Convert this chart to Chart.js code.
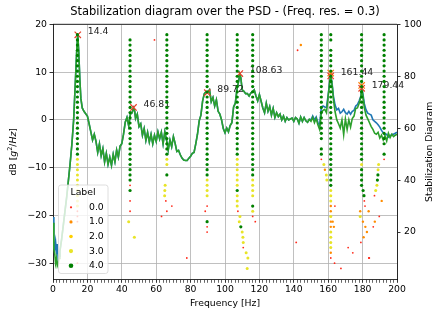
<!DOCTYPE html>
<html>
<head>
<meta charset="utf-8">
<script src="https://cdn.jsdelivr.net/npm/chart.js@4.4.0/dist/chart.umd.min.js"></script>
<style>
  html, body { margin: 0; padding: 0; background: #fff; }
</style>
</head>
<body>
<canvas id="chart" width="433" height="313"></canvas>
<script>
// Text
const TITLE = 'Stabilization diagram over the PSD - (Freq. res. = 0.3)';
const X_TITLE = 'Frequency [Hz]';
const Y2_TITLE = 'Stabilization Diagram';

// Tick labels
const X_TICKS = [0, 20, 40, 60, 80, 100, 120, 140, 160, 180, 200];
const Y_TICKS = [-30, -20, -10, 0, 10, 20];
const Y2_TICKS = [20, 40, 60, 80, 100];

// PSD curves (dB)
const FREQS = [
  0, 0.5, 1, 1.5, 2, 2.5, 3, 3.5, 4, 5, 6, 7, 8, 9, 10, 11, 12, 13, 13.8, 14.4, 15, 15.6, 16.2, 17, 18, 19, 20,
  21, 22, 23, 24, 25, 26, 27, 28, 29, 30, 31, 32, 33, 34, 35, 36, 37, 38, 39, 40, 41, 42, 43, 44, 45, 46,
  46.8, 47.5, 48, 49, 50, 51, 52, 53, 54, 55, 56, 57, 58, 59, 60, 61, 62, 63, 64, 65, 66, 67, 68, 69, 70,
  71, 72, 73, 74, 75, 76, 77, 78, 79, 80, 81, 82, 83, 84, 85, 86, 87, 88, 89, 90, 91, 92, 93, 94, 95, 96,
  97, 98, 99, 100, 101, 102, 103, 104, 105, 106, 107, 108,
  108.6, 109.2, 110, 111, 112, 113, 114, 115, 116, 117, 118, 119, 120, 121, 122, 123, 124, 125, 126, 127,
  128, 129, 130, 131, 132, 133, 134, 135, 136, 137, 138, 139, 140, 141, 142, 143, 144, 145, 146, 147, 148,
  149, 150, 151, 152, 153, 154, 155, 156, 157, 158, 159, 160, 161,
  161.5, 162, 162.5, 163, 164, 165, 166, 167, 168, 169, 170, 171, 172, 173, 174, 175, 176, 177, 178, 179,
  179.5, 180.2, 181, 182, 183, 184, 185, 186, 187, 188, 189, 190, 191, 192, 193, 194, 195, 196, 197, 198, 199, 200
];
const PSD_GREEN = [
  -21.5, -27, -28, -30, -29, -30.5, -30, -29, -27.5, -25, -22, -19, -16, -12.5, -9, -5, 0, 8, 14.5, 17.9, 14, 8.5, 4.5, 2.5, 1.8, 1.3, 0.8,
  -0.8, -2.5, -4.2, -3, -4.5, -6.8, -5, -7.5, -6, -8.8, -7, -9.3, -7.8, -9.5, -7.2, -8.8, -6.3, -7.8, -5.5, -5, -3, -0.5, 0.5, -1.2, 1.2, 1.5,
  2.5, 1.8, 0.3, 1.2, -1.4, -0.8, -3.2, -1.8, -4.3, -2.6, -4.6, -3, -5, -3.2, -4.5, -2.5, -4, -2.6, -5, -2.5, -4.2, -6.3, -4.2, -5.6, -3.5,
  -4.9, -6.6, -6.4, -7.3, -8, -8.4, -8.5, -8.5, -8, -7.6, -7, -6.8, -5, -3, -0.2, 1, 4, 5.5, 5.9, 5.8, 6.3, 3.8, 4.7, 2.9, 4.2, 1.8,
  1.2, 0, -1.8, -2.7, -1.7, -2.5, -1.2, -0.6, 2.7, 3.5, 6.5, 8.2,
  9.6, 8.8, 6.3, 6, 5.5, 5.5, 5, 5.6, 5.9, 6.3, 5, 4, 5.3, 3.9, 2.5, 1.5, 3.5, 1.8, 2.8, 1,
  2.4, 0.5, 1.5, 0.7, 1.2, 0, 0.8, -0.3, 0.5, 0, 0.2, 0.4, -0.3, 0.5, 0.2, -0.7, 0.6, -0.3, 0.5, -0.2, -0.5,
  0.1, -0.3, 0.5, -0.6, 0.3, -1, -2, 1.5, 2, 2.2, 1.5, 5, 8.2,
  9.3, 8, 6.5, 4.4, 1.7, 0, -0.8, -1.7, 0, -3.1, 0.2, -2, 0, -1.5, 0.3, 0.8, 2.4, 2.5, 3.5, 4.8,
  6.6, 5, 2.5, 1, 0.2, -0.6, -1.4, -2, -2.8, -3, -2.6, -3.8, -3.2, -4.2, -3.3, -4.4, -2.8, -3.7, -3, -3.5, -3.2, -3
];
const PSD_BLUE = [
  -20.3, -25.5, -27, -25.5, -27.5, -26, -29, -28.5, -27.5, -25, -22, -19, -16, -12.5, -9, -5, 0, 8, 14.5, 17.9, 14, 8.5, 4.5, 2.5, 1.8, 1.3, 0.8,
  -0.8, -2.5, -4.2, -3, -4.5, -6.8, -5, -7.5, -6, -8.8, -7, -9.3, -7.8, -9.5, -7.2, -8.8, -6.3, -7.8, -5.5, -5, -3, -0.5, 0.5, -1.2, 1.2, 1.5,
  2.5, 1.8, 0.3, 1.2, -1.4, -0.8, -3.2, -1.8, -4.3, -2.6, -4.6, -3, -5, -3.2, -4.5, -2.5, -4, -2.6, -5, -2.5, -4.2, -6.3, -4.2, -5.6, -3.5,
  -4.9, -6.6, -6.4, -7.3, -8, -8.4, -8.5, -8.5, -8, -7.6, -7, -6.8, -5, -3, -0.2, 1, 4, 5.5, 5.9, 5.8, 6.3, 3.8, 4.7, 2.9, 4.2, 1.8,
  1.2, 0, -1.8, -2.7, -1.7, -2.5, -1.2, -0.6, 2.7, 3.5, 6.5, 8.2,
  9.6, 8.8, 6.3, 6, 5.5, 5.5, 5, 5.6, 5.9, 6.3, 5, 4, 5.3, 3.9, 2.5, 1.5, 3.5, 1.8, 2.8, 1,
  2.4, 0.5, 1.5, 0.7, 1.2, 0, 0.8, -0.3, 0.5, 0, 0.2, 0.4, -0.3, 0.5, 0.2, -0.7, 0.6, -0.3, 0.5, -0.2, -0.5,
  0.1, 0, 0.8, 0, 0.6, -0.5, -1.2, 2.6, 2.9, 2.7, 2.6, 5.3, 8.4,
  9.4, 8.2, 6.9, 5, 3.1, 2.1, 2.4, 1.4, 1.7, 2.2, 1.5, 1.2, 1.8, 1.2, 1.8, 2, 2.9, 3.2, 4, 5,
  6.7, 5.4, 3.4, 2.1, 1.4, 1.2, 1, 0, -0.3, -0.6, -1, -1.5, -2.2, -2.7, -3.1, -3, -3.6, -3.4, -3, -3, -2.8, -2.6
];

// Picked peaks
const PEAK_FREQS = [14.4, 46.81, 89.72, 108.63, 161.44, 179.44];
const PEAK_DB = [17.8, 2.6, 5.7, 9.7, 9.2, 6.6];
const PEAK_TEXT = ['14.4', '46.81', '89.72', '108.63', '161.44', '179.44'];
const PEAK2_FREQS = [161.44, 179.44];
const PEAK2_DB = [9.8, 7.2];

// Stabilization diagram: model orders and pole labels
const ORDERS = [96, 94, 92, 90, 88, 86, 84, 82, 80, 78, 76, 74, 72, 70, 68, 66, 64, 62, 60, 58, 56, 54, 52, 50,
  48, 46, 44, 42, 40, 38, 36, 34, 32, 30, 28, 26, 24, 22, 20, 18, 16, 14, 12, 10, 8, 6, 4];
const LABEL_NAMES = ['0.0', '1.0', '2.0', '3.0', '4.0'];
const LABEL_COLORS = ['#ff2a1a', '#ff8c00', '#ffd000', '#e8e428', '#008000'];
// one char per order in ORDERS: label code, '.' = no pole
const COLUMN_FREQS = [14.2, 44.8, 66.2, 89.6, 107.1, 116.1, 156.0, 161.5, 179.4, 192.5];
const COLUMN_CODES = [
  '4444444444' + '4444444444' + '4444' + '3333333333' + '000' + '.......' + '0' + '..',
  '.' + '4444444444' + '4444444444' + '44444444' + '0' + '4' + '.' + '0' + '.' + '0' + '............',
  '4444444444' + '4444444444' + '4444' + '33' + '.' + '4' + '.' + '...' + '.' + '.' + '0' + '............',
  '4444444444' + '4444444444' + '44444444' + '3333' + '.' + '0' + '.' + '.' + '4' + '0' + '0' + '........',
  '4444444444' + '4444444444' + '4444' + '333333' + '4' + '333' + '.............',
  '4444444444' + '4444444444' + '44444' + '4' + '44' + '3333' + '.' + '4' + '3' + '0' + '...........',
  '4444444444' + '4444444444' + '4' + '.' + '44' + '0' + '..........' + '..........' + '..',
  '44' + '.' + '4444444444' + '4444444444' + '4444444' + '333' + '1' + '1' + '3' + '1' + '1' + '3333' + '1' + '0' + '...',
  '4444444444' + '4444444444' + '44444' + '3' + '4444' + '.................',
  '4444444444' + '4444444444' + '44' + '.' + '4' + '0' + '..........' + '..........' + '..'
];
// poles off the straight columns: [freq, order, label]
const EXTRA_POLES = [
  [44.0, 24, 3], [47.3, 18, 3],
  [65.2, 38, 3], [65.0, 36, 3], [64.9, 34, 3], [65.6, 32, 0], [69.1, 30, 0], [63.1, 26, 0], [77.8, 10, 0], [59.0, 94, 0],
  [88.5, 28, 0],
  [107.5, 28, 0], [108.7, 26, 3], [108.3, 24, 3], [109.2, 22, 4], [110.0, 20, 3], [110.4, 18, 3], [110.6, 16, 3],
  [110.6, 14, 0], [112.3, 12, 3], [113.3, 10, 3], [112.9, 6, 3],
  [117.6, 24, 0],
  [141.4, 16, 0], [142.2, 90, 0], [144.1, 92, 1],
  [157.5, 46, 3], [158.1, 44, 1], [158.9, 42, 3], [159.2, 40, 3],
  [163.9, 30, 0], [162.6, 24, 1], [163.3, 22, 1], [163.7, 8, 0], [167.4, 6, 0], [171.6, 14, 0], [174.3, 12, 0], [183.6, 10, 0],
  [180.3, 36, 4], [180.8, 34, 4], [181.0, 32, 0], [181.4, 30, 0], [178.6, 28, 1], [183.5, 28, 1], [178.6, 26, 3],
  [180.2, 24, 1], [181.6, 22, 1], [182.5, 20, 1], [180.6, 18, 1], [179.0, 16, 0], [183.9, 10, 0],
  [189.3, 46, 3], [189.0, 44, 3], [188.9, 42, 4], [188.6, 40, 4], [188.3, 38, 3], [187.6, 36, 3], [186.9, 34, 0],
  [191.1, 32, 1], [189.7, 26, 0], [187.1, 24, 1], [186.2, 22, 0]
];

// sanity checks
COLUMN_CODES.forEach((s, i) => {
  if (s.length !== ORDERS.length) throw new Error('column ' + i + ' has ' + s.length + ' codes');
});
if (PSD_GREEN.length !== FREQS.length || PSD_BLUE.length !== FREQS.length) {
  throw new Error('psd lengths ' + FREQS.length + ' ' + PSD_GREEN.length + ' ' + PSD_BLUE.length);
}

// style
const FONT = 'DejaVu Sans';
const FS = 9.3;
const GRID = '#b0b0b0';
const DOT_RADIUS = [0.9, 1.2, 1.4, 1.5, 1.6];
const LEGEND_RADIUS = [1.1, 1.6, 1.8, 2.1, 2.3];

// group poles by label
const poles = LABEL_NAMES.map(() => []);
COLUMN_CODES.forEach((codes, c) => {
  for (let i = 0; i < codes.length; i++) {
    if (codes[i] === '.') continue;
    poles[Number(codes[i])].push({ x: COLUMN_FREQS[c], y: ORDERS[i] });
  }
});
EXTRA_POLES.forEach(([f, o, l]) => poles[l].push({ x: f, y: o }));

const fmt = v => String(v).replace('-', '\u2212');

const poleSets = [4, 3, 2, 1, 0].map(l => ({
  type: 'scatter',
  label: LABEL_NAMES[l],
  data: poles[l],
  yAxisID: 'y2',
  pointRadius: DOT_RADIUS[l],
  pointBorderWidth: 0,
  backgroundColor: LABEL_COLORS[l],
  borderColor: LABEL_COLORS[l]
}));

const decor = {
  id: 'decor',
  beforeDraw(chart) {
    const c = chart.ctx;
    c.save();
    c.fillStyle = '#fff';
    c.fillRect(0, 0, chart.width, chart.height);
    c.restore();
  },
  afterDatasetDraw(chart, args) {
    if (args.index !== 5) return; // after red peak markers, before poles
    const { ctx, scales: { x, y } } = chart;
    ctx.save();
    ctx.font = FS + 'px "' + FONT + '"';
    ctx.fillStyle = '#222';
    ctx.textBaseline = 'middle';
    ctx.textAlign = 'left';
    PEAK_TEXT.forEach((t, i) => {
      ctx.fillText(t, x.getPixelForValue(PEAK_FREQS[i]) + 10, y.getPixelForValue(PEAK_DB[i]) - 3);
    });
    ctx.restore();
  },
  afterDraw(chart) {
    const { ctx, chartArea: a } = chart;
    const midY = (a.top + a.bottom) / 2;
    ctx.save();
    // top spine
    ctx.strokeStyle = '#000';
    ctx.lineWidth = 0.8;
    ctx.beginPath();
    ctx.moveTo(a.left, a.top);
    ctx.lineTo(a.right, a.top);
    ctx.stroke();

    // title
    ctx.fillStyle = '#000';
    ctx.font = '11.5px "' + FONT + '"';
    ctx.textAlign = 'center';
    ctx.textBaseline = 'middle';
    ctx.fillText(TITLE, (a.left + a.right) / 2, 12.5);

    // left y title with math parts
    const parts = [
      ['dB [', 'normal', FS, 0],
      ['g', 'italic', FS, 0],
      ['2', 'normal', FS * 0.7, -3.5],
      ['/', 'normal', FS, 0],
      ['Hz', 'italic', FS, 0],
      [']', 'normal', FS, 0]
    ];
    let total = 0;
    parts.forEach(p => { ctx.font = p[1] + ' ' + p[2] + 'px "' + FONT + '"'; total += ctx.measureText(p[0]).width; });
    ctx.save();
    ctx.translate(13.7, midY);
    ctx.rotate(-Math.PI / 2);
    ctx.textAlign = 'left';
    let px = -total / 2;
    parts.forEach(p => {
      ctx.font = p[1] + ' ' + p[2] + 'px "' + FONT + '"';
      ctx.fillText(p[0], px, p[3]);
      px += ctx.measureText(p[0]).width;
    });
    ctx.restore();

    // right y title
    ctx.save();
    ctx.font = FS + 'px "' + FONT + '"';
    ctx.translate(429.5, midY);
    ctx.rotate(-Math.PI / 2);
    ctx.textAlign = 'center';
    ctx.fillText(Y2_TITLE, 0, 0);
    ctx.restore();

    // legend box
    const lx = 58.5, ly = 185, lw = 49.5, lh = 88.5;
    ctx.beginPath();
    ctx.roundRect(lx, ly, lw, lh, 2.5);
    ctx.fillStyle = 'rgba(255,255,255,0.8)';
    ctx.fill();
    ctx.strokeStyle = '#d6d6d6';
    ctx.lineWidth = 0.8;
    ctx.stroke();
    ctx.fillStyle = '#000';
    ctx.font = FS + 'px "' + FONT + '"';
    ctx.textAlign = 'center';
    ctx.fillText('Label', lx + 24.5, ly + 8);
    ctx.textAlign = 'left';
    LABEL_NAMES.forEach((name, l) => {
      const yy = ly + 22.3 + l * 14.6;
      ctx.beginPath();
      ctx.arc(lx + 12.5, yy, LEGEND_RADIUS[l], 0, Math.PI * 2);
      ctx.fillStyle = LABEL_COLORS[l];
      ctx.fill();
      ctx.fillStyle = '#000';
      ctx.fillText(name, lx + 30.5, yy);
    });
    ctx.restore();
  }
};

Chart.defaults.font.family = FONT;
Chart.defaults.font.size = FS;
Chart.defaults.color = '#000';

new Chart(document.getElementById('chart'), {
  type: 'scatter',
  data: {
    datasets: [
      ...poleSets,
      {
        type: 'scatter',
        label: 'peaks',
        data: PEAK_FREQS.map((f, i) => ({ x: f, y: PEAK_DB[i] })),
        yAxisID: 'y',
        pointStyle: 'crossRot',
        pointRadius: 4.5,
        borderColor: '#e8402a',
        borderWidth: 1.2
      },
      {
        type: 'scatter',
        label: 'peaks 2',
        data: PEAK2_FREQS.map((f, i) => ({ x: f, y: PEAK2_DB[i] })),
        yAxisID: 'y',
        pointStyle: 'crossRot',
        pointRadius: 4.5,
        borderColor: '#ff7f0e',
        borderWidth: 1.2
      },
      {
        type: 'line',
        label: 'PSD smooth',
        data: FREQS.map((f, i) => ({ x: f, y: PSD_GREEN[i] })),
        yAxisID: 'y',
        borderColor: '#2ca02c',
        borderWidth: 1.6,
        pointRadius: 0,
        fill: false,
        tension: 0
      },
      {
        type: 'line',
        label: 'PSD',
        data: FREQS.map((f, i) => ({ x: f, y: PSD_BLUE[i] })),
        yAxisID: 'y',
        borderColor: '#1f77b4',
        borderWidth: 1.6,
        pointRadius: 0,
        fill: false,
        tension: 0
      }
    ]
  },
  options: {
    responsive: false,
    animation: false,
    devicePixelRatio: 1,
    layout: { padding: { top: 24.3, left: 0, right: 0, bottom: 0 } },
    plugins: {
      legend: { display: false },
      tooltip: { enabled: false }
    },
    scales: {
      x: {
        type: 'linear',
        position: 'bottom',
        min: 0,
        max: 200,
        afterFit: s => { s.height = 33.7; },
        ticks: {
          stepSize: 2,
          autoSkip: false,
          maxRotation: 0,
          padding: 1.5,
          callback: v => (X_TICKS.includes(v) ? fmt(v) : '')
        },
        grid: {
          color: ctx => (ctx.tick && X_TICKS.includes(ctx.tick.value) ? GRID : 'rgba(0,0,0,0)'),
          lineWidth: 0.8,
          tickColor: '#000',
          tickLength: 3.5,
          tickWidth: ctx => (ctx.tick && X_TICKS.includes(ctx.tick.value) ? 0.8 : 0.6)
        },
        border: { color: '#000', width: 0.8 },
        title: { display: true, text: X_TITLE, padding: { top: 0, bottom: 3.7 } }
      },
      y: {
        type: 'linear',
        position: 'left',
        min: -33.35,
        max: 20,
        afterFit: s => { s.width = 53; },
        afterBuildTicks: s => { s.ticks = Y_TICKS.map(v => ({ value: v })); },
        ticks: { padding: 2.5, callback: v => fmt(v) },
        grid: { color: GRID, lineWidth: 0.8, tickColor: '#000', tickLength: 3.5, tickWidth: 0.8 },
        border: { color: '#000', width: 0.8 }
      },
      y2: {
        type: 'linear',
        position: 'right',
        min: 1.8,
        max: 100,
        afterFit: s => { s.width = 36; },
        afterBuildTicks: s => { s.ticks = Y2_TICKS.map(v => ({ value: v })); },
        ticks: { padding: 3.5, callback: v => fmt(v) },
        grid: { drawOnChartArea: false, tickColor: '#000', tickLength: 3.5, tickWidth: 0.8 },
        border: { color: '#000', width: 0.8 }
      }
    }
  },
  plugins: [decor]
});
</script>
</body>
</html>
